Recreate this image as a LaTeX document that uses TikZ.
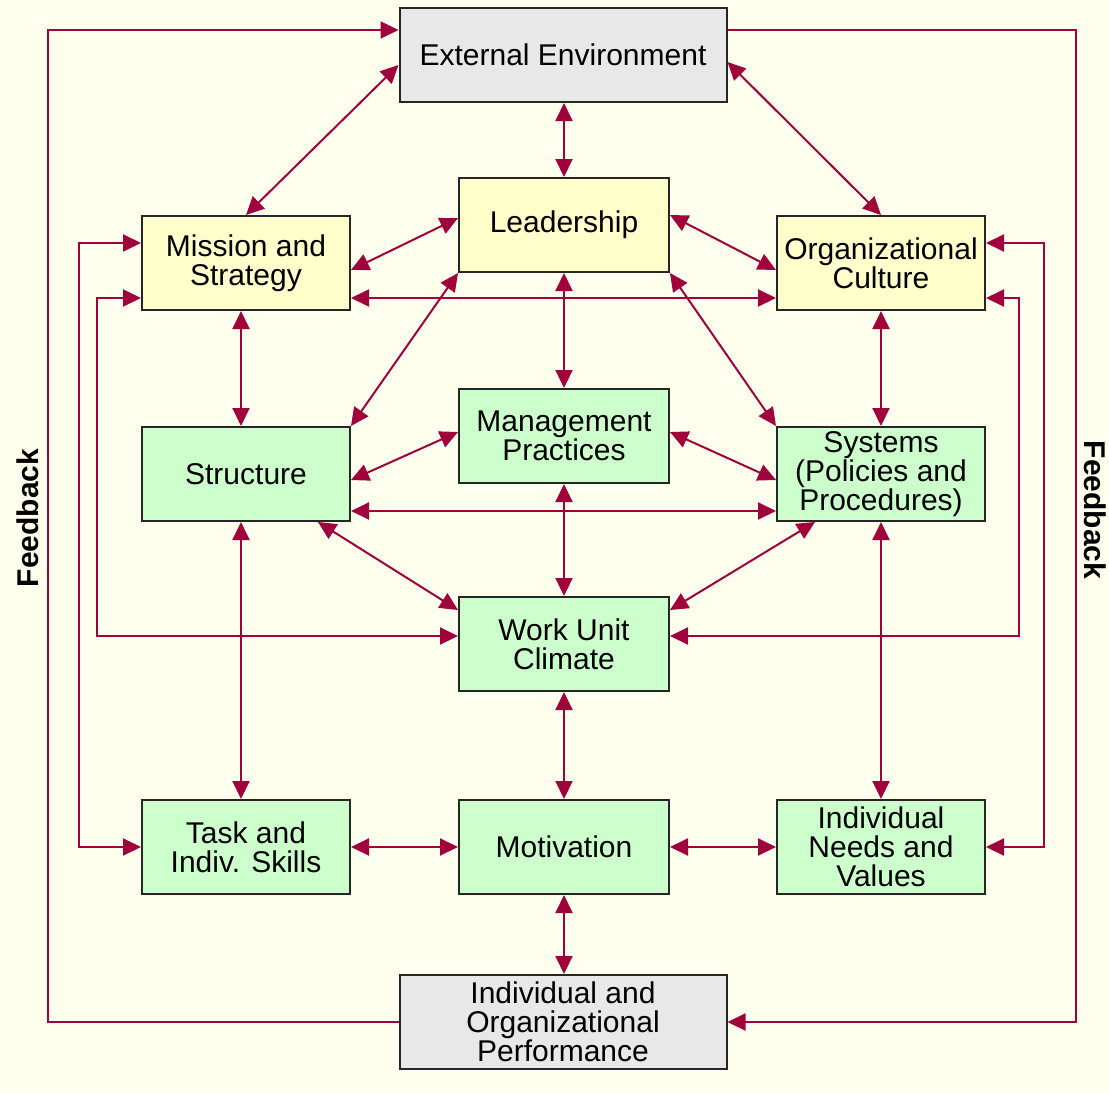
\documentclass[tikz,border=0pt]{standalone}
\usepackage{fontspec}
\setmainfont{Liberation Sans}
\usetikzlibrary{arrows.meta}
\definecolor{fondo}{RGB}{255,255,238}
\definecolor{gris}{RGB}{232,232,232}
\definecolor{amarillo}{RGB}{255,255,204}
\definecolor{verde}{RGB}{204,255,204}
\definecolor{flecha}{RGB}{160,0,60}
\tikzset{
  caja/.style={draw=black!85, line width=1pt, minimum width=104pt, minimum height=47pt,
    inner sep=1pt, align=center, font=\fontsize{15pt}{14.5pt}\selectfont},
  ancha/.style={caja, fill=gris, minimum width=163.5pt},
  media/.style={caja, minimum width=105pt},
  punta/.tip={Triangle[length=9pt,width=8.5pt]},
  enlace/.style={draw=flecha, line width=1pt, punta-punta},
  retro/.style={draw=flecha, line width=1pt, -punta},
}
\begin{document}
\begin{tikzpicture}[x=0.5pt,y=-0.5pt]
        \fill[fondo] (0,0) rectangle (1109,1093);
        \useasboundingbox (0,0) rectangle (1109,1093);
        % Cajas
        \node[ancha] (env) at (563,55) {External Environment};
        \node[media, fill=amarillo] (lead) at (564,225) {Leadership};
        \node[caja, fill=amarillo] (mission) at (246,263) {Mission and\\Strategy};
        \node[caja, fill=amarillo] (culture) at (881,263) {Organizational\\Culture};
        \node[caja, fill=verde] (struct) at (246,474) {Structure};
        \node[media, fill=verde] (mgmt) at (564,436) {Management\\Practices};
        \node[caja, fill=verde] (systems) at (881,474) {Systems\\(Policies and\\Procedures)};
        \node[media, fill=verde] (climate) at (564,644) {Work Unit\\Climate};
        \node[caja, fill=verde] (task) at (246,847) {Task and\\Indiv. Skills};
        \node[media, fill=verde] (motiv) at (564,847) {Motivation};
        \node[caja, fill=verde] (needs) at (881,847) {Individual\\Needs and\\Values};
        \node[ancha] (perf) at (563,1022) {Individual and\\Organizational\\Performance};
        \node[rotate=90, font=\bfseries\fontsize{15pt}{15pt}\selectfont] (fbizq) at (28,518) {Feedback};
        \node[rotate=-90, font=\bfseries\fontsize{15pt}{15pt}\selectfont] (fbder) at (1095,510) {Feedback};
        % Lazos de retroalimentacion
        \draw[retro] (perf.west) -| (48,30) -- ([yshift=12.5pt]env.west);
        \draw[retro] ([yshift=12.5pt]env.east) -| (1076,1022) -- (perf.east);
        \draw[enlace] ([yshift=10pt]mission.west) -- ++(-62,0) |- (task.west);
        \draw[enlace] ([yshift=-17.5pt]mission.west) -- ++(-44,0) |- ([yshift=4pt]climate.west);
        \draw[enlace] ([yshift=10pt]culture.east) -- ++(58,0) |- (needs.east);
        \draw[enlace] ([yshift=-17.5pt]culture.east) -- ++(33,0) |- ([yshift=4pt]climate.east);
        % Enlaces
        \draw[enlace] ([yshift=-5pt]env.west) -- (mission.north);
        \draw[enlace] ([yshift=-3.5pt]env.east) -- (culture.north);
        \draw[enlace] (lead.north |- env.south) -- (lead.north);
        \draw[enlace] ([yshift=3.5pt]lead.west) -- ([yshift=-3.5pt]mission.east);
        \draw[enlace] ([yshift=5pt]lead.east) -- ([yshift=-3.5pt]culture.west);
        \draw[enlace] ([yshift=-17.5pt]mission.east) -- ([yshift=-17.5pt]culture.west);
        \draw[enlace] (lead.south) -- (mgmt.north);
        \draw[enlace] (lead.south west) -- (struct.north east);
        \draw[enlace] (lead.south east) -- (systems.north west);
        \draw[enlace] ([xshift=-2.5pt]mission.south) -- ([xshift=-2.5pt]struct.north);
        \draw[enlace] (culture.south) -- (systems.north);
        \draw[enlace] ([yshift=2pt]mgmt.west) -- ([yshift=-3pt]struct.east);
        \draw[enlace] ([yshift=2pt]mgmt.east) -- ([yshift=-3pt]systems.west);
        \draw[enlace] ([yshift=-18.5pt]struct.east) -- ([yshift=-18.5pt]systems.west);
        \draw[enlace] (mgmt.south) -- (climate.north);
        \draw[enlace] ([xshift=36pt]struct.south) -- ([yshift=17pt]climate.west);
        \draw[enlace] ([xshift=-33pt]systems.south) -- ([yshift=17pt]climate.east);
        \draw[enlace] ([xshift=-2.5pt]struct.south) -- ([xshift=-2.5pt]task.north);
        \draw[enlace] (systems.south) -- (needs.north);
        \draw[enlace] (climate.south) -- (motiv.north);
        \draw[enlace] (task.east) -- (motiv.west);
        \draw[enlace] (motiv.east) -- (needs.west);
        \draw[enlace] (motiv.south) -- (motiv.south |- perf.north);
    \end{tikzpicture}
\end{document}
